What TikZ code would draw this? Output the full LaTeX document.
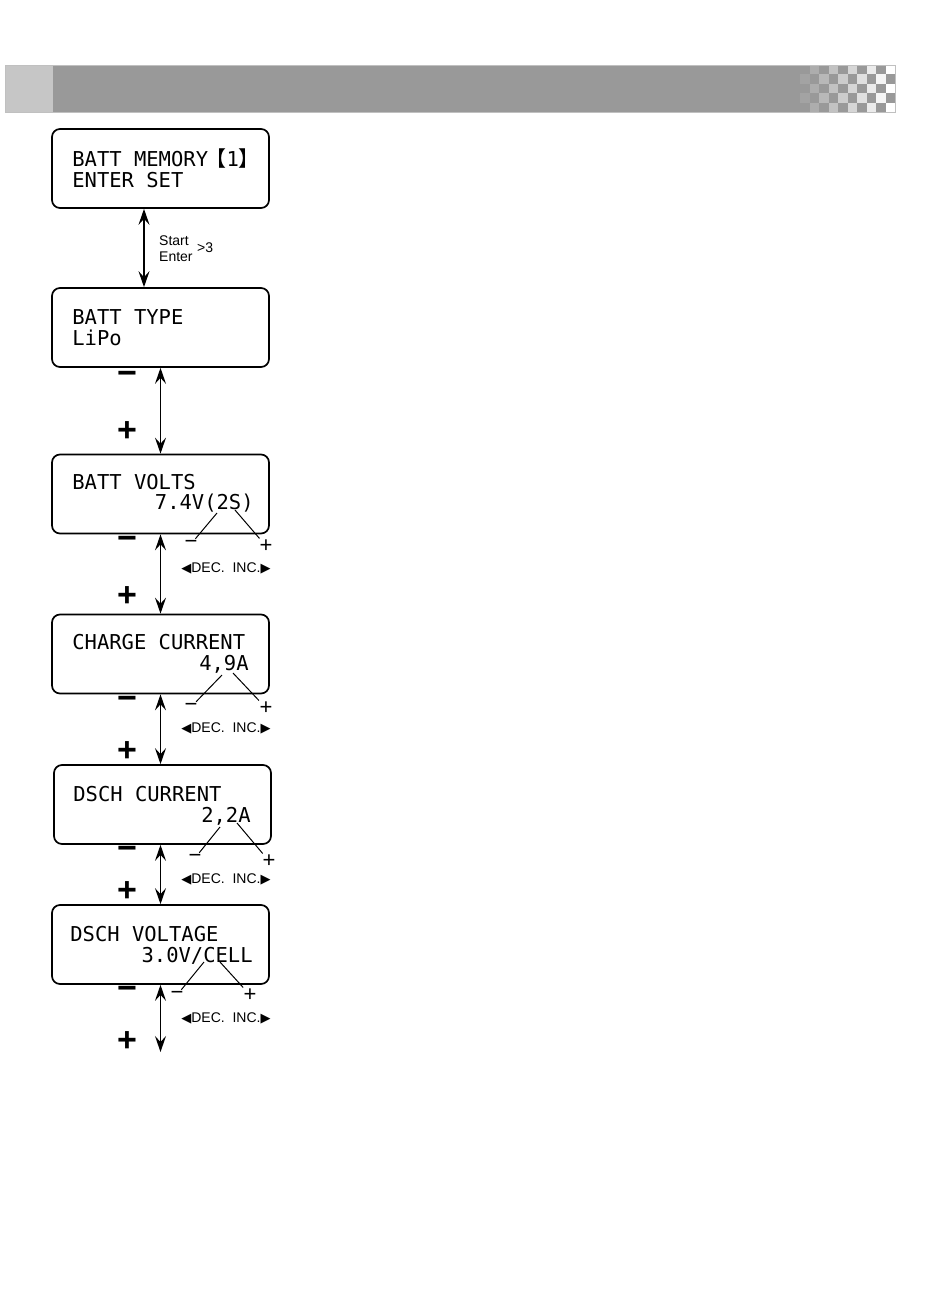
\documentclass[tikz,border=0pt]{standalone}
\usepackage{fontspec}
\usetikzlibrary{arrows.meta}
\setmainfont{Liberation Sans}
\newfontfamily\lcdfont{DejaVu Sans Mono}
\newfontfamily\symfont{DejaVu Sans}
\newfontfamily\cjkfont{Noto Sans CJK SC}
\definecolor{bar-gray}{RGB}{153,153,153}
\definecolor{bar-light}{RGB}{198,198,198}
\definecolor{bar-edge}{RGB}{192,192,192}
\tikzset{
    lcd-box/.style = {draw, line width=1.7pt, rounded corners=8pt, minimum width=217pt, minimum height=79pt, inner sep=0pt},
    lcd-text/.style = {font=\lcdfont\fontsize{20.5}{24}\selectfont, inner sep=0pt},
    key-sign/.style = {font=\bfseries\fontsize{34}{34}\selectfont, inner sep=0pt},
    small-sign/.style = {font=\fontsize{22}{22}\selectfont, inner sep=1pt},
    dec-inc/.style = {font=\fontsize{14}{15}\selectfont, inner sep=0pt},
    hint-text/.style = {font=\fontsize{14}{15}\selectfont, inner sep=0pt, anchor=base west},
    nav-arrow/.style = {line width=1.4pt, {Stealth[length=16pt,width=11pt,inset=6pt]}-{Stealth[length=16pt,width=11pt,inset=6pt]}},
    pointer/.style = {line width=1pt},
}
\newcommand{\deckeys}{{\symfont\fontsize{13}{13}\selectfont ◀}DEC.\ \ INC.{\symfont\fontsize{13}{13}\selectfont ▶}}
\newcommand{\slotbracket}[1]{{\cjkfont\fontsize{21}{21}\selectfont #1}}

\begin{document}
\begin{tikzpicture}[x=1pt,y=-1pt]
\useasboundingbox (0,0) rectangle (950,1298);

% header bar
\fill[bar-light] (5,65) rectangle (53,112);
\fill[bar-gray] (53,65) rectangle (800,112);
\foreach \i in {0,...,4}{
    \foreach \j in {0,...,9}{
        \pgfmathtruncatemacro\lightness{mod(\i+\j,2)*10*(\j+1)}
        \fill[white!\lightness!bar-gray] (800+9.5*\j,65+9.4*\i) rectangle ++(9.5,9.4);
    }
}
\draw[bar-edge, line width=0.8pt] (5,65) rectangle (895,112);

% displays
\node[lcd-box] (memory) at (160.5,168.5) {};
\node[lcd-box] (type) at (160.5,327.5) {};
\node[lcd-box] (volts) at (160.5,494) {};
\node[lcd-box] (charge) at (160.5,654) {};
\node[lcd-box] (dsch) at (162.5,804.5) {};
\node[lcd-box] (voltage) at (160.5,944.5) {};

\node[lcd-text, anchor=base west] (memory-l1) at ([shift={(21,38)}]memory.north west) {BATT MEMORY\kern-3pt\slotbracket{【}\kern0.5pt1\slotbracket{】}};
\node[lcd-text, anchor=base west] (memory-l2) at ([shift={(21,59)}]memory.north west) {ENTER SET};
\node[lcd-text, anchor=base west] (type-l1) at ([shift={(21,37)}]type.north west) {BATT TYPE};
\node[lcd-text, anchor=base west] (type-l2) at ([shift={(21,58)}]type.north west) {LiPo};
\node[lcd-text, anchor=base west] (volts-l1) at ([shift={(21,36)}]volts.north west) {BATT VOLTS};
\node[lcd-text, anchor=base east] (volts-l2) at ([shift={(-16,56)}]volts.north east) {7.4V(2S)};
\node[lcd-text, anchor=base west] (charge-l1) at ([shift={(21,36)}]charge.north west) {CHARGE CURRENT};
\node[lcd-text, anchor=base east] (charge-l2) at ([shift={(-21,57)}]charge.north east) {4,9A};
\node[lcd-text, anchor=base west] (dsch-l1) at ([shift={(20,37)}]dsch.north west) {DSCH CURRENT};
\node[lcd-text, anchor=base east] (dsch-l2) at ([shift={(-21,58)}]dsch.north east) {2,2A};
\node[lcd-text, anchor=base west] (voltage-l1) at ([shift={(19,37)}]voltage.north west) {DSCH VOLTAGE};
\node[lcd-text, anchor=base east] (voltage-l2) at ([shift={(-17,58)}]voltage.north east) {3.0V/CELL};

% arrows between displays
\draw[nav-arrow] ([xshift=-16.5pt]memory.south) -- ([xshift=-16.5pt]type.north);
\node[hint-text] (start) at (159,245) {Start};
\node[hint-text] (enter) at (159,261) {Enter};
\node[hint-text] (enter-time) at (197,252) {>3};

\draw[nav-arrow] (type.south) -- (volts.north);
\draw[nav-arrow] (volts.south) -- (charge.north);
\draw[nav-arrow] (charge.south) -- (charge.south |- dsch.north);
\draw[nav-arrow] (dsch.south -| charge.south) -- (charge.south |- voltage.north);
\coordinate (voltage-end) at (160.5,1052);
\draw[nav-arrow] (voltage.south) -- (voltage-end);

\node[key-sign] (type-minus) at (127,378) {−};
\node[key-sign] (type-plus) at (127,432) {+};
\node[key-sign] (volts-minus) at (127,543) {−};
\node[key-sign] (volts-plus) at (127,597) {+};
\node[key-sign] (charge-minus) at (127,703) {−};
\node[key-sign] (charge-plus) at (127,752) {+};
\node[key-sign] (dsch-minus) at (127,853) {−};
\node[key-sign] (dsch-plus) at (127,892) {+};
\node[key-sign] (voltage-minus) at (127,993) {−};
\node[key-sign] (voltage-plus) at (127,1042) {+};

% value keys
\coordinate (volts-dec-pt) at (217,513);
\coordinate (volts-inc-pt) at (235,510);
\node[small-sign] (volts-dec) at (191,544) {−};
\node[small-sign] (volts-inc) at (266,546) {+};
\draw[pointer] (volts-dec-pt) -- (volts-dec);
\draw[pointer] (volts-inc-pt) -- (volts-inc);
\node[dec-inc] (volts-keys) at (226,568) {\deckeys};

\coordinate (charge-dec-pt) at (222,675);
\coordinate (charge-inc-pt) at (233,673);
\node[small-sign] (charge-dec) at (191,707) {−};
\node[small-sign] (charge-inc) at (266,708) {+};
\draw[pointer] (charge-dec-pt) -- (charge-dec);
\draw[pointer] (charge-inc-pt) -- (charge-inc);
\node[dec-inc] (charge-keys) at (226,728) {\deckeys};

\coordinate (dsch-dec-pt) at (220,827);
\coordinate (dsch-inc-pt) at (237,823);
\node[small-sign] (dsch-dec) at (195,858) {−};
\node[small-sign] (dsch-inc) at (269,861) {+};
\draw[pointer] (dsch-dec-pt) -- (dsch-dec);
\draw[pointer] (dsch-inc-pt) -- (dsch-inc);
\node[dec-inc] (dsch-keys) at (226,879) {\deckeys};

\coordinate (voltage-dec-pt) at (204,962);
\coordinate (voltage-inc-pt) at (220,962);
\node[small-sign] (voltage-dec) at (177,995) {−};
\node[small-sign] (voltage-inc) at (250,995) {+};
\draw[pointer] (voltage-dec-pt) -- (voltage-dec);
\draw[pointer] (voltage-inc-pt) -- (voltage-inc);
\node[dec-inc] (voltage-keys) at (226,1018) {\deckeys};
\end{tikzpicture}
\end{document}
